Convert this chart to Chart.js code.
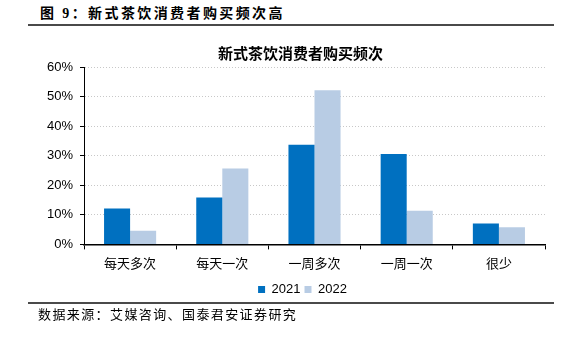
<!DOCTYPE html>
<html>
<head>
<meta charset="utf-8">
<script src="https://cdn.jsdelivr.net/npm/chart.js@4"></script>
<style>
  body { margin: 0; background: #fff; }
  #page { position: relative; width: 581px; height: 338px; overflow: hidden; }
  #chart-box { position: absolute; left: 0; top: 0; width: 581px; height: 338px; }
  .rule { position: absolute; left: 28px; width: 526px; height: 2px; background: #4a4a4a; }
  .caption { position: absolute; white-space: nowrap; color: #000;
    font-family: "Liberation Serif", "Noto Sans CJK SC", serif; }
  #heading { left: 40px; top: 5px; font-size: 14px; font-weight: bold; letter-spacing: 2.4px; line-height: 18px; }
  #source { left: 38px; top: 306px; font-size: 13px; letter-spacing: 1.4px; line-height: 18px; }
</style>
</head>
<body>
<div id="page">
  <div id="heading" class="caption">图 9：新式茶饮消费者购买频次高</div>
  <div class="rule" style="top:24px"></div>
  <div id="chart-box"><canvas id="chart"></canvas></div>
  <div class="rule" style="top:302px"></div>
  <div id="source" class="caption">数据来源：艾媒咨询、国泰君安证券研究</div>
</div>
<script>
// purchase frequency categories and share of respondents (%)
const categories = ["每天多次", "每天一次", "一周多次", "一周一次", "很少"];
const share2021 = [12.1, 15.9, 33.7, 30.6, 7.1];
const share2022 = [4.6, 25.7, 52.1, 11.4, 5.8];
const yTicks = [0, 10, 20, 30, 40, 50, 60];

const fontFamily = '"Liberation Sans", Arial, "Noto Sans CJK SC", sans-serif';
Chart.defaults.font.family = fontFamily;
Chart.defaults.color = "#000";

// title and legend sit under the plot centre rather than the canvas centre
const centreOnPlot = {
  id: "centreOnPlot",
  afterLayout(chart) {
    chart.legend.left += 30;
    chart.legend.right += 30;
    chart.titleBlock.left += 28;
    chart.titleBlock.right += 28;
  },
};

const ctx = document.getElementById("chart").getContext("2d");
new Chart(ctx, {
  type: "bar",
  data: {
    labels: categories,
    datasets: [
      { label: "2021", data: share2021, backgroundColor: "#0070C0" },
      { label: "2022", data: share2022, backgroundColor: "#B8CCE4" },
    ],
  },
  options: {
    responsive: true,
    maintainAspectRatio: false,
    animation: false,
    datasets: {
      bar: { categoryPercentage: 0.565, barPercentage: 1 },
    },
    layout: {
      padding: { left: 0, right: 36, top: 0, bottom: 32 },
    },
    plugins: {
      title: {
        display: true,
        text: "新式茶饮消费者购买频次",
        color: "#000",
        font: { family: '"Noto Sans CJK SC", sans-serif', size: 15, weight: "bold" },
        padding: { top: 44, bottom: 5 },
      },
      legend: {
        position: "bottom",
        labels: {
          boxWidth: 7,
          boxHeight: 7,
          padding: 4,
          font: { size: 13 },
          color: "#000",
        },
      },
      tooltip: { enabled: false },
    },
    scales: {
      x: {
        grid: {
          drawOnChartArea: false,
          drawTicks: true,
          tickLength: 5,
          tickColor: "#000",
          tickWidth: 1,
        },
        border: { color: "#000", width: 1.5 },
        ticks: { padding: 7, font: { size: 13 }, color: "#000" },
      },
      y: {
        min: 0,
        max: 60,
        afterFit: (scale) => { scale.width = 84; },
        afterBuildTicks: (scale) => { scale.ticks = yTicks.map((v) => ({ value: v })); },
        grid: {
          color: "#c8c8c8",
          lineWidth: 1,
          tickLength: 4,
          tickColor: "#000",
          tickBorderDash: [],
        },
        border: { color: "#000", width: 1, dash: [1, 2] },
        ticks: {
          padding: 7,
          font: { size: 13 },
          color: "#000",
          callback: (v) => v + "%",
        },
      },
    },
  },
  plugins: [centreOnPlot],
});
</script>
</body>
</html>
